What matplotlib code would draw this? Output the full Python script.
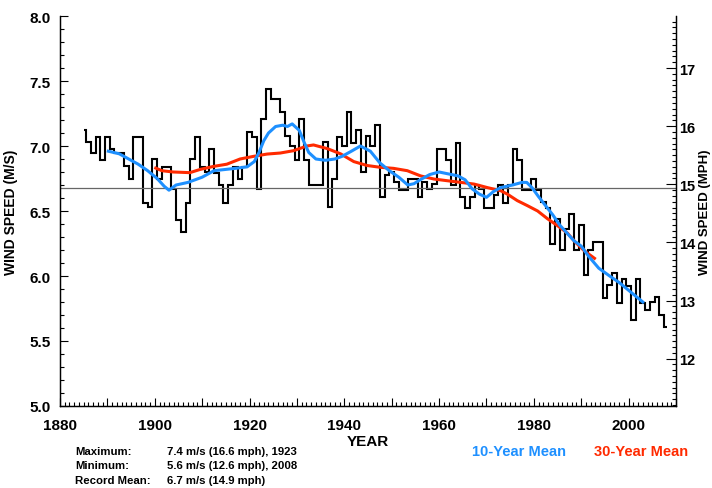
import numpy as np
import matplotlib
matplotlib.use("Agg")
import matplotlib.pyplot as plt
from matplotlib.ticker import MultipleLocator, FormatStrFormatter, FuncFormatter

# ---------------- data ----------------
years = np.arange(1885, 2009)
wind_ms = [
    7.12, 7.03, 6.95, 7.07, 6.89, 7.07, 6.98, 6.95, 6.95, 6.85,   # 1885-1894
    6.75, 7.07, 7.07, 6.56, 6.53, 6.90, 6.75, 6.84, 6.84, 6.67,   # 1895-1904
    6.43, 6.34, 6.56, 6.90, 7.07, 6.84, 6.80, 6.98, 6.79, 6.70,   # 1905-1914
    6.56, 6.70, 6.84, 6.75, 6.84, 7.11, 7.07, 6.67, 7.21, 7.44,   # 1915-1924
    7.36, 7.36, 7.26, 7.08, 7.00, 6.89, 7.21, 6.89, 6.70, 6.70,   # 1925-1934
    6.70, 7.03, 6.53, 6.75, 7.07, 7.00, 7.26, 7.02, 7.12, 6.80,   # 1935-1944
    7.08, 7.00, 7.16, 6.61, 6.78, 6.80, 6.72, 6.66, 6.66, 6.75,   # 1945-1954
    6.75, 6.61, 6.72, 6.67, 6.71, 6.98, 6.98, 6.89, 6.70, 7.02,   # 1955-1964
    6.61, 6.52, 6.61, 6.70, 6.67, 6.52, 6.52, 6.62, 6.70, 6.56,   # 1965-1974
    6.70, 6.98, 6.89, 6.66, 6.66, 6.75, 6.66, 6.57, 6.52, 6.25,   # 1975-1984
    6.44, 6.20, 6.36, 6.48, 6.20, 6.39, 6.01, 6.20, 6.26, 6.26,   # 1985-1994
    5.83, 5.93, 6.02, 5.79, 5.98, 5.92, 5.66, 5.98, 5.79, 5.74,   # 1995-2004
    5.80, 5.84, 5.70, 5.61,                                       # 2005-2008
]

mean10_years = [1890.2, 1892.5, 1894.5, 1896.5, 1898.5, 1900.5, 1902, 1903, 1904.5, 1907,
                1910, 1912.5, 1915, 1917.5, 1919.5, 1921, 1922, 1923, 1924, 1925.5,
                1927, 1928, 1929, 1930.5, 1931.5, 1932.5, 1934, 1936, 1938, 1939.5,
                1941.5, 1943.4, 1945.5, 1947.5, 1949.5, 1951.5, 1953.4, 1954.7, 1956, 1958,
                1960, 1962, 1964, 1965.5, 1967, 1968.5, 1970, 1971.5, 1973, 1975.5,
                1977.5, 1978.5, 1979.6, 1981, 1982.5, 1984, 1985.5, 1987, 1988.5, 1990,
                1991.6, 1993.7, 1996, 1998, 2000, 2002, 2003]
mean10_vals = [6.96, 6.94, 6.90, 6.86, 6.81, 6.75, 6.69, 6.66, 6.70, 6.72,
               6.76, 6.81, 6.82, 6.83, 6.84, 6.88, 6.95, 7.04, 7.10, 7.15,
               7.16, 7.15, 7.17, 7.12, 7.03, 6.95, 6.90, 6.89, 6.90, 6.92,
               6.96, 7.00, 6.96, 6.87, 6.81, 6.76, 6.70, 6.71, 6.74, 6.78,
               6.80, 6.785, 6.77, 6.74, 6.67, 6.63, 6.605, 6.65, 6.68, 6.70,
               6.72, 6.72, 6.68, 6.61, 6.54, 6.47, 6.39, 6.33, 6.27, 6.23,
               6.15, 6.06, 6.00, 5.95, 5.89, 5.83, 5.80]

mean30_years = [1900.2, 1901.5, 1903.9, 1907.4, 1909.6, 1912.4, 1915.2, 1918, 1920.8, 1923.7,
                1926.5, 1929.3, 1932.1, 1933.5, 1936.4, 1939.2, 1942, 1944.8, 1947.6, 1950.4,
                1953.3, 1956.1, 1958.9, 1961.7, 1964.6, 1967.4, 1970.2, 1973, 1974.4, 1976.5,
                1978.7, 1980.8, 1982.9, 1985, 1987.1, 1988.5, 1990.6, 1992.8]
mean30_vals = [6.83, 6.81, 6.80, 6.795, 6.82, 6.843, 6.86, 6.90, 6.92, 6.938,
               6.946, 6.964, 7.00, 7.008, 6.98, 6.94, 6.88, 6.85, 6.836, 6.828,
               6.81, 6.77, 6.746, 6.733, 6.72, 6.707, 6.68, 6.656, 6.63, 6.58,
               6.54, 6.50, 6.44, 6.387, 6.33, 6.27, 6.195, 6.136]

record_mean = 6.68
MS_TO_MPH = 2.23694

stats_labels = ["Maximum:", "Minimum:", "Record Mean:"]
stats_values = ["7.4 m/s (16.6 mph), 1923", "5.6 m/s (12.6 mph), 2008", "6.7 m/s (14.9 mph)"]

# ---------------- figure ----------------
plt.rcParams['font.family'] = ['Liberation Sans', 'DejaVu Sans']
W, H = 712, 489
fig = plt.figure(figsize=(W / 100, H / 100), dpi=100)
ax = fig.add_axes([60 / W, 1 - 407 / H, 616 / W, 390 / H])

vals = np.array(wind_ms)
edges = np.concatenate([[years[0]], (years[:-1] + years[1:]) / 2.0, [years[-1]]])
ax.stairs(vals, edges, baseline=None, color='black', lw=1.5)
ax.axhline(record_mean, color='#666666', lw=0.9, zorder=1)
ax.plot(mean30_years, mean30_vals, color='#ff2a00', lw=2.2, zorder=3)
ax.plot(mean10_years, mean10_vals, color='#1e90ff', lw=2.2, zorder=4)

ax.set_xlim(1880, 2010)
ax.set_ylim(5.0, 8.0)
ax.xaxis.set_major_locator(MultipleLocator(10))
ax.xaxis.set_minor_locator(MultipleLocator(1))
ax.xaxis.set_major_formatter(FuncFormatter(
    lambda v, p: f"{int(round(v))}" if int(round(v)) % 20 == 0 and v < 2009 else ""))
ax.yaxis.set_major_locator(MultipleLocator(0.5))
ax.yaxis.set_minor_locator(MultipleLocator(0.1))
ax.yaxis.set_major_formatter(FormatStrFormatter('%.1f'))
ax.tick_params(which='both', direction='in', top=False, right=False, width=0.8)
ax.tick_params(which='major', length=6, labelsize=11)
ax.tick_params(which='minor', length=3)
ax.tick_params(axis='x', which='major', pad=9)
ax.tick_params(axis='y', which='major', pad=7)
for lab in ax.get_xticklabels() + ax.get_yticklabels():
    lab.set_fontweight('bold')
ax.set_xlabel('YEAR', fontsize=11, fontweight='bold', labelpad=1)
ax.set_ylabel('WIND SPEED (M/S)', fontsize=10, fontweight='bold')
ax.yaxis.set_label_coords(-0.068, 0.5)

ax2 = ax.twinx()
ax2.set_ylim(5.0 * MS_TO_MPH, 8.0 * MS_TO_MPH)
ax2.yaxis.set_major_locator(MultipleLocator(1))
ax2.yaxis.set_minor_locator(MultipleLocator(0.1))
ax2.tick_params(which='both', direction='in', width=0.8)
ax2.tick_params(which='major', length=7, labelsize=10.5, pad=2.5)
ax2.tick_params(which='minor', length=3)
for lab in ax2.get_yticklabels():
    lab.set_fontweight('bold')
ax2.set_ylabel('WIND SPEED (MPH)', fontsize=9.5, fontweight='bold', va='center')
ax2.yaxis.set_label_coords(1.0475, 0.5)
for a in (ax, ax2):
    for s in a.spines.values():
        s.set_linewidth(0.9)
ax2.spines['top'].set_visible(False)
ax.spines['top'].set_visible(False)

# footer
for i, (lab, val) in enumerate(zip(stats_labels, stats_values)):
    y = 1 - (452 + 14.5 * i) / H
    fig.text(75 / W, y, lab, fontsize=8.2, fontweight='bold', va='center', ha='left')
    fig.text(167 / W, y, val, fontsize=8.2, fontweight='bold', va='center', ha='left')
fig.text(519 / W, 1 - 452 / H, '10-Year Mean', color='#1e90ff', fontsize=10.5,
         fontweight='bold', ha='center', va='center')
fig.text(641 / W, 1 - 452 / H, '30-Year Mean', color='#ff2a00', fontsize=10.5,
         fontweight='bold', ha='center', va='center')

fig.savefig('out.png', dpi=100)
